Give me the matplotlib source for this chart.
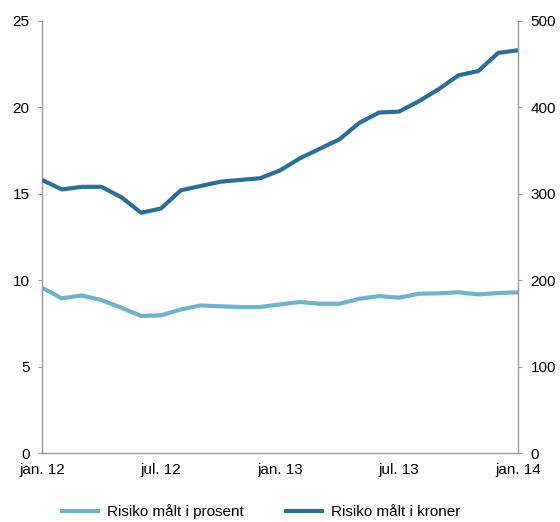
import numpy as np
import pandas as pd
import matplotlib
matplotlib.use("Agg")
import matplotlib.pyplot as plt

plt.rcParams['font.family'] = ['Liberation Sans', 'DejaVu Sans']

# monthly observations, jan. 12 - jan. 14
months = pd.date_range("2012-01-01", "2014-01-01", freq="MS")
risk_pct = [9.57, 8.95, 9.12, 8.85, 8.41, 7.93, 7.97, 8.31, 8.54, 8.49, 8.45, 8.45, 8.6,
            8.74, 8.64, 8.64, 8.93, 9.08, 8.99, 9.22, 9.24, 9.30, 9.18, 9.26, 9.30]
risk_nok = [316, 305, 308, 308, 296, 278, 283, 304, 309, 314, 316, 318, 327,
            341, 352, 363, 382, 394, 395, 407, 421, 437, 442, 463, 466]
tick_pos = [0, 6, 12, 18, 24]
tick_labels = ["jan. 12", "jul. 12", "jan. 13", "jul. 13", "jan. 14"]

light = "#6db3d0"
dark = "#27709b"
grey = "#9a9a9a"

fig = plt.figure(figsize=(5.6, 5.22), dpi=100)
ax = fig.add_axes([0.075, 0.132, 0.85, 0.828])
ax2 = ax.twinx()

x = np.arange(len(months))
l1, = ax.plot(x, risk_pct, color=light, lw=3, solid_capstyle="butt", label="Risiko målt i prosent")
l2, = ax2.plot(x, risk_nok, color=dark, lw=3, solid_capstyle="butt", label="Risiko målt i kroner")

ax.set_xlim(0, 24)
ax.set_ylim(0, 25)
ax2.set_ylim(0, 500)
ax.set_yticks([0, 5, 10, 15, 20, 25])
ax2.set_yticks([0, 100, 200, 300, 400, 500])
ax.set_xticks(tick_pos)
ax.set_xticklabels(tick_labels)

for a in (ax, ax2):
    a.spines['top'].set_visible(False)
    for s in ('left', 'right', 'bottom'):
        a.spines[s].set_color(grey)
        a.spines[s].set_linewidth(1)
ax.spines['right'].set_visible(False)
ax2.spines['left'].set_visible(False)
ax2.spines['bottom'].set_visible(False)

ax.tick_params(axis='y', length=3, color=grey, labelsize=11, pad=6)
ax2.tick_params(axis='y', length=3, color=grey, labelsize=11, pad=6)
ax.tick_params(axis='x', length=0, labelsize=11, pad=7)

fig.legend(handles=[l1, l2], loc='center', bbox_to_anchor=(0.465, 0.02), ncol=2,
           frameon=False, fontsize=11, handlelength=2.6, columnspacing=2.6,
           handletextpad=0.5, borderpad=0.2)

fig.savefig("out.png", dpi=100)
